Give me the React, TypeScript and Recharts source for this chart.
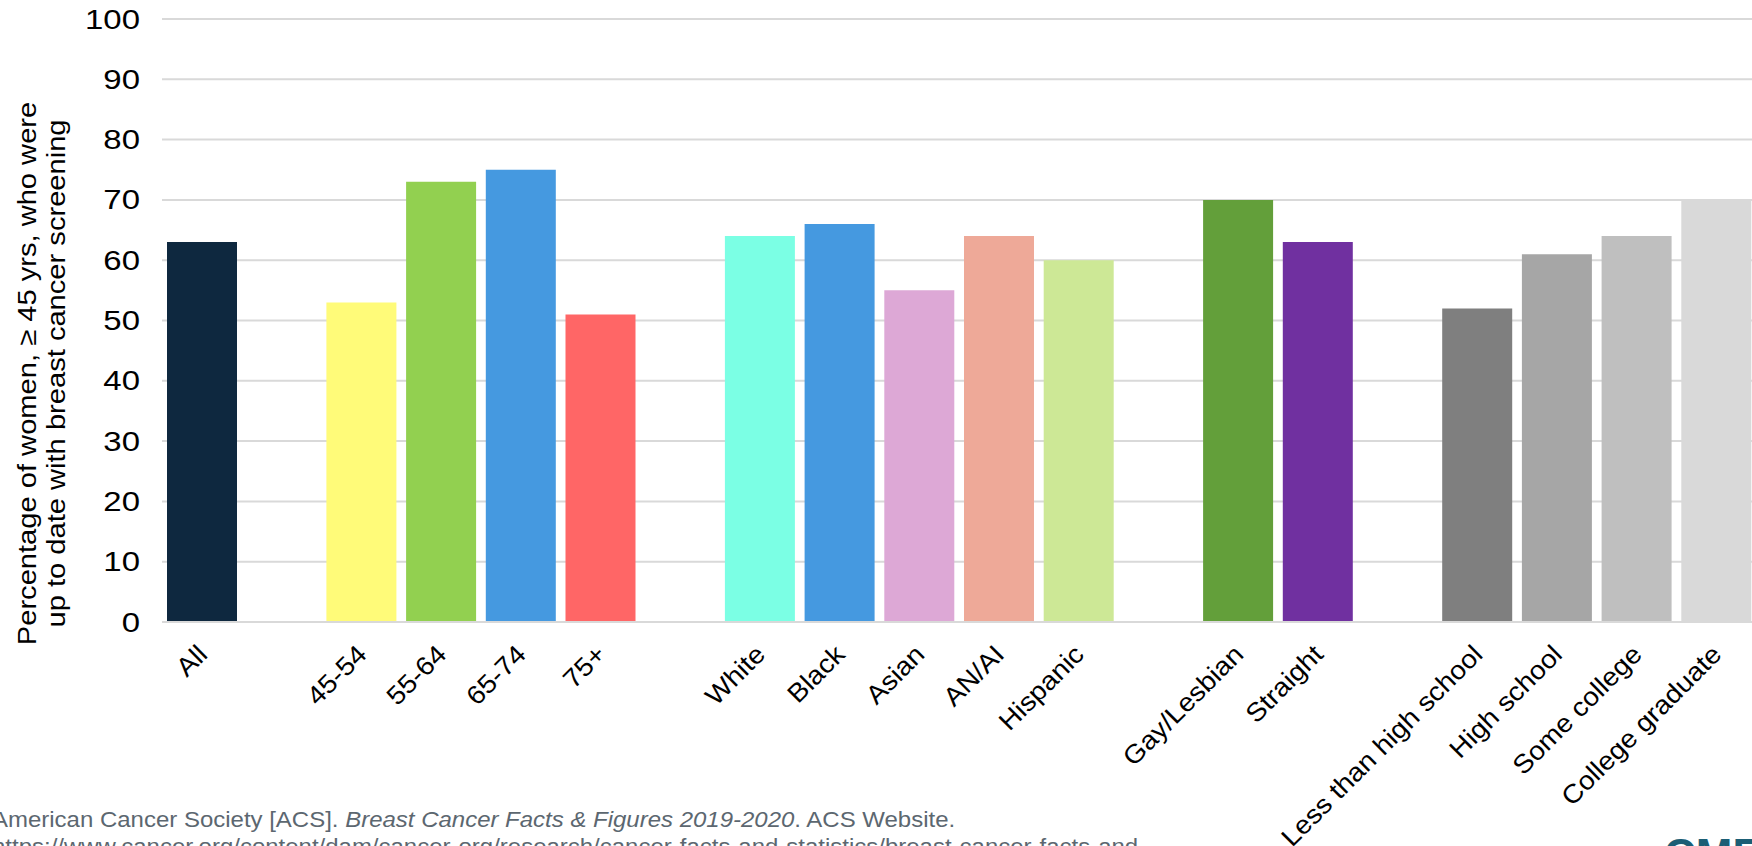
import React from "react"
import { BarChart, Bar, XAxis, YAxis, CartesianGrid, Cell, Label } from "recharts"

// empty strings are spacer slots between the groups
const categories = [
  "All", "",
  "45-54", "55-64", "65-74", "75+", "",
  "White", "Black", "Asian", "AN/AI", "Hispanic", "",
  "Gay/Lesbian", "Straight", "",
  "Less than high school", "High school", "Some college", "College graduate",
]

const screened: (number | null)[] = [
  63, null,
  53, 73, 75, 51, null,
  64, 66, 55, 64, 60, null,
  70, 63, null,
  52, 61, 64, 70,
]

const barColors = [
  "#0E283F", "",
  "#FFFB79", "#92D050", "#4599E0", "#FF6666", "",
  "#7BFFE4", "#4599E0", "#DDA8D6", "#EEA998", "#CDE896", "",
  "#639F3A", "#7030A0", "",
  "#7F7F7F", "#A6A6A6", "#BFBFBF", "#D9D9D9",
]

const yTicks = [0, 10, 20, 30, 40, 50, 60, 70, 80, 90, 100]

const yTitle = ["Percentage of women, \u2265 45 yrs, who were", "up to date with breast cancer screening"]

const FONT = "'Liberation Sans', Arial, sans-serif"

const data = categories.map((c, i) => ({ name: c, value: screened[i] }))

const XTick = (props: any) => {
  const { x, y, payload } = props
  if (!payload.value) return null
  return (
    <text
      transform={`translate(${x + 7},${y + 26}) rotate(-45) scale(1.08,1)`}
      textAnchor="end"
      fontSize={26}
      fontFamily={FONT}
      fill="#000"
    >
      {payload.value}
    </text>
  )
}

const YTick = (props: any) => {
  const { x, y, payload } = props
  return (
    <text
      transform={`translate(${x},${y}) scale(1.22,1)`}
      textAnchor="end"
      dy="0.355em"
      fontSize={27}
      fontFamily={FONT}
      fill="#000"
    >
      {payload.value}
    </text>
  )
}

const YTitle = (props: any) => {
  const cy = props.viewBox.y + props.viewBox.height / 2 + 53
  return (
    <g>
      {yTitle.map((t, i) => (
        <text
          key={i}
          transform={`translate(${36 + i * 29},${cy}) rotate(-90) scale(1.12,1)`}
          textAnchor="middle"
          fontSize={26}
          fontFamily={FONT}
          fill="#000"
        >
          {t}
        </text>
      ))}
    </g>
  )
}

export default function App() {
  return (
    <div
      style={{
        position: "fixed", left: 0, top: 0, width: 1752, height: 846,
        overflow: "hidden", background: "#fff", fontFamily: FONT,
      }}
    >
      <BarChart
        width={1760}
        height={846}
        data={data}
        margin={{ top: 19, right: 4, left: 62, bottom: 24 }}
        barCategoryGap={5}
      >
        <CartesianGrid vertical={false} stroke="#D9D9D9" strokeWidth={2} />
        <XAxis
          dataKey="name"
          interval={0}
          tick={<XTick />}
          tickLine={false}
          axisLine={{ stroke: "#D9D9D9", strokeWidth: 2 }}
          height={200}
        />
        <YAxis
          domain={[0, 100]}
          ticks={yTicks}
          tickLine={false}
          axisLine={false}
          tickSize={0}
          tickMargin={22}
          width={100}
          tick={<YTick />}
        >
          <Label content={<YTitle />} />
        </YAxis>
        <Bar dataKey="value" isAnimationActive={false}>
          {data.map((d, i) => (
            <Cell key={i} fill={barColors[i] || "transparent"} />
          ))}
        </Bar>
      </BarChart>
      <div
        style={{
          position: "absolute", left: -8, top: 806, fontSize: 22, lineHeight: "27px",
          color: "#5C6770", whiteSpace: "nowrap",
          transform: "scaleX(1.09)", transformOrigin: "0 0",
        }}
      >
        <div>
          American Cancer Society [ACS]. <i>Breast Cancer Facts &amp; Figures 2019-2020</i>. ACS Website.
        </div>
        <div>https://www.cancer.org/content/dam/cancer-org/research/cancer-facts-and-statistics/breast-cancer-facts-and-</div>
      </div>
      <div
        style={{
          position: "absolute", left: 1664, top: 830, fontSize: 44, fontWeight: 700,
          color: "#1B5E75", whiteSpace: "nowrap", lineHeight: "50px",
        }}
      >
        CME
      </div>
    </div>
  )
}
